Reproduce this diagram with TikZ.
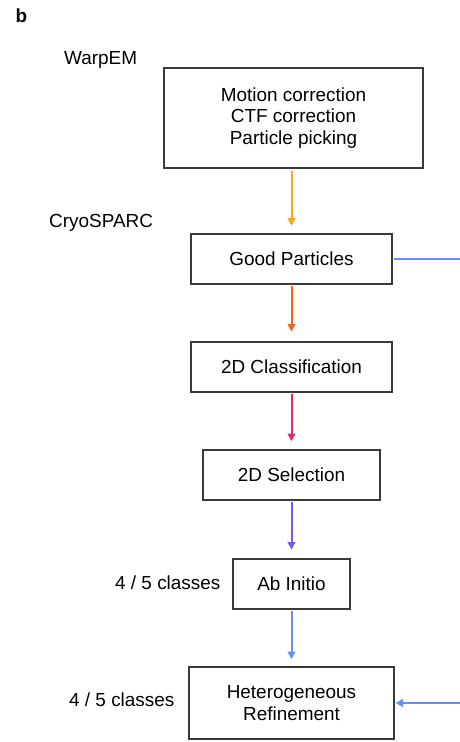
\documentclass[tikz,border=0pt]{standalone}
\usepackage{fontspec}
\setmainfont{Liberation Sans}
\usetikzlibrary{arrows.meta}
\definecolor{boxline}{HTML}{3A3A3A}
\definecolor{flowA}{HTML}{F7A51A}
\definecolor{flowB}{HTML}{F7621A}
\definecolor{flowC}{HTML}{DE2A7B}
\definecolor{flowD}{HTML}{7857EE}
\definecolor{flowE}{HTML}{6C8DF7}
\tikzset{
  stepbox/.style={draw=boxline, line width=1.6bp, fill=white, inner sep=0pt,
    align=center, font=\fontsize{19}{21.5}\selectfont},
  lbl/.style={anchor=west, inner sep=0pt, font=\fontsize{19}{21.5}\selectfont},
  flow/.style={line width=2bp, -{Triangle[width=7.5bp,length=7.5bp]}},
}
\begin{document}
\begin{tikzpicture}[x=1bp,y=-1bp]
\useasboundingbox (0,0) rectangle (460,742);

% panel letter and stage labels
\node[lbl, font=\fontsize{19}{21}\selectfont\bfseries] (panel) at (15.5,16) {b};
\node[lbl] (warp) at (64,60) {WarpEM};
\node[lbl] (cryo) at (49,223) {CryoSPARC};
\node[lbl] (clsA) at (115,583) {4 / 5 classes};
\node[lbl] (clsB) at (69,700) {4 / 5 classes};

% processing steps
\node[stepbox, minimum width=259bp, minimum height=100bp] (pre) at (293.5,118)
  {Motion correction\\CTF correction\\Particle picking};
\node[stepbox, minimum width=201bp, minimum height=50bp] (good) at (291.5,259) {Good Particles};
\node[stepbox, minimum width=201bp, minimum height=50bp] (cls2d) at (291.5,367) {2D Classification};
\node[stepbox, minimum width=177bp, minimum height=50bp] (sel2d) at (291.5,475) {2D Selection};
\node[stepbox, minimum width=117bp, minimum height=50bp] (abin) at (291.5,584) {Ab Initio};
\node[stepbox, minimum width=205bp, minimum height=72bp] (hetero) at (291.5,703)
  {Heterogeneous\\Refinement};

% side connection from Good Particles to Heterogeneous Refinement
\coordinate (sideTop) at (460,259);
\coordinate (sideBot) at (460,703);

% vertical flow, kept on one column just left of the box centres
\begin{scope}[xshift=-0.5bp]
\draw[flow, draw=flowA, fill=flowA, shorten <=2bp, shorten >=7.5bp] (pre.south -| good.north) -- (good.north);
\draw[flow, draw=flowB, fill=flowB, shorten <=1bp, shorten >=9.5bp] (good.south) -- (cls2d.north);
\draw[flow, draw=flowC, fill=flowC, shorten <=1bp, shorten >=8bp] (cls2d.south) -- (sel2d.north);
\draw[flow, draw=flowD, fill=flowD, shorten <=1bp, shorten >=8.5bp] (sel2d.south) -- (abin.north);
\draw[flow, draw=flowE, fill=flowE, shorten <=1.5bp, shorten >=7bp] (abin.south) -- (hetero.north);
\end{scope}

\draw[draw=flowE, line width=2bp, shorten <=1bp] (good.east) -- (sideTop);
\draw[flow, draw=flowE, fill=flowE, shorten >=0.7bp] (sideBot) -- (hetero.east);
\end{tikzpicture}
\end{document}
